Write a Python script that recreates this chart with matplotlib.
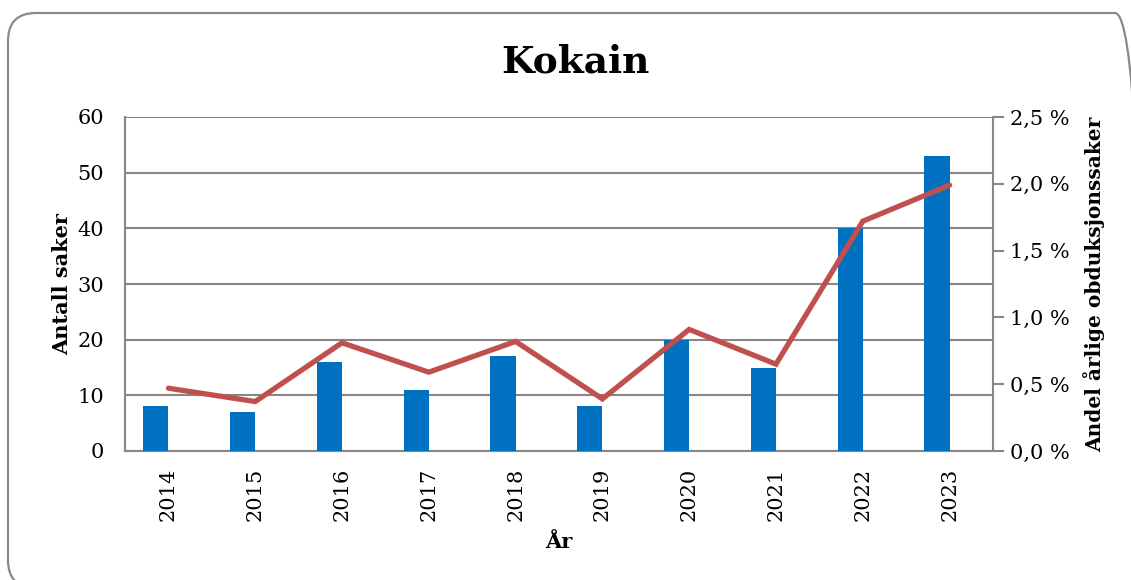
import matplotlib
matplotlib.use("Agg")
import matplotlib.pyplot as plt
import numpy as np
from matplotlib.patches import FancyBboxPatch
from matplotlib.ticker import FuncFormatter, MultipleLocator

years = ["2014", "2015", "2016", "2017", "2018", "2019", "2020", "2021", "2022", "2023"]
antall = [8, 7, 16, 11, 17, 8, 20, 15, 40, 53]
andel = [0.47, 0.37, 0.81, 0.59, 0.82, 0.39, 0.91, 0.65, 1.72, 1.99]

plt.rcParams['font.family'] = ['DejaVu Serif']
W, H = 1131, 580
fig = plt.figure(figsize=(W / 100, H / 100), dpi=100)

# rounded frame drawn in pixel coordinates (y measured upward)
bg = fig.add_axes([0, 0, 1, 1])
bg.set_xlim(0, W)
bg.set_ylim(0, H)
bg.axis("off")
left, top, right, bottom = 8, 13, 1143, 588
frame = FancyBboxPatch((left, H - bottom), right - left, bottom - top,
                       boxstyle="round,pad=0,rounding_size=28",
                       facecolor="none", edgecolor="#8a8a8a", linewidth=1.6)
bg.add_patch(frame)

ax = fig.add_axes([125 / W, 1 - 451 / H, (993 - 125) / W, (451 - 117) / H])
x = np.arange(len(years))
bw = 0.29
ax.bar(x - bw / 2, antall, width=bw, color="#0070C0", zorder=3)
ax.set_xlim(-0.5, len(years) - 0.5)
ax.set_ylim(0, 60)
ax.yaxis.set_major_locator(MultipleLocator(10))
ax.grid(axis="y", color="#878787", linewidth=1.5, zorder=0)
ax.set_axisbelow(True)
ax.set_xticks(x)
ax.set_xticklabels(years, rotation=90, fontsize=15)
ax.tick_params(axis="x", length=0, pad=12)
ax.tick_params(axis="y", length=0, pad=15, labelsize=15)
for s in ["top", "right"]:
    ax.spines[s].set_visible(False)
for s in ["left", "bottom"]:
    ax.spines[s].set_color("#878787")
    ax.spines[s].set_linewidth(1.5)
ax.set_ylabel("Antall saker", fontsize=15, fontweight="bold", labelpad=4)
ax.set_xlabel("År", fontsize=15, fontweight="bold", labelpad=8)

ax2 = ax.twinx()
ax2.plot(x, andel, color="#C0504D", linewidth=3.8, solid_capstyle="round",
         solid_joinstyle="miter", zorder=4)
ax2.set_ylim(0, 2.5)
ax2.yaxis.set_major_locator(MultipleLocator(0.5))
ax2.yaxis.set_major_formatter(FuncFormatter(lambda v, p: f"{v:.1f}".replace(".", ",") + " %"))
ax2.tick_params(axis="y", length=8, width=1.5, color="#878787", pad=4, labelsize=15)
for s in ["top", "left", "bottom"]:
    ax2.spines[s].set_visible(False)
ax2.spines["right"].set_color("#878787")
ax2.spines["right"].set_linewidth(1.5)
ax2.set_ylabel("Andel årlige obduksjonssaker", fontsize=14.5, fontweight="bold", labelpad=10)

fig.text(575 / W, 1 - 62 / H, "Kokain", fontsize=27, fontweight="bold",
         ha="center", va="center")

fig.savefig("out.png", dpi=100)
